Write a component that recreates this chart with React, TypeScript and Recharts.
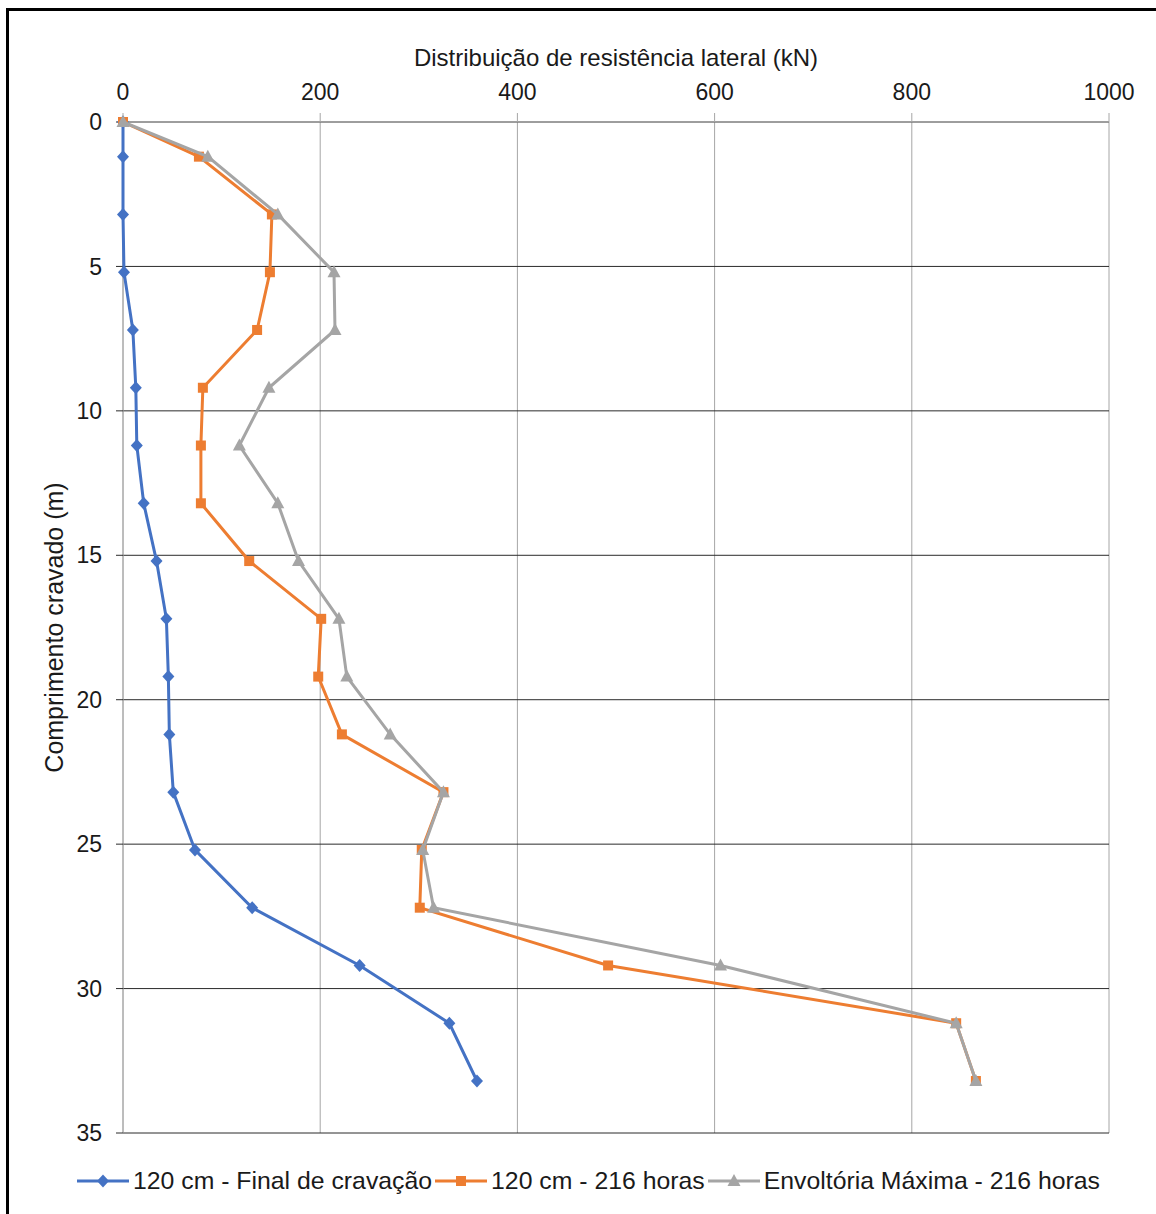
import { CartesianGrid, Label, Legend, Scatter, ScatterChart, XAxis, YAxis } from "recharts"

// Profundidade (m) de cada leitura
const depth = [0, 1.2, 3.2, 5.2, 7.2, 9.2, 11.2, 13.2, 15.2, 17.2, 19.2, 21.2, 23.2, 25.2, 27.2, 29.2, 31.2, 33.2]

// Resistência lateral acumulada (kN)
const finalCravacao = [0, 0, 0, 1, 10, 13, 14, 21, 34, 44, 46, 47, 51, 73, 131, 240, 331, 359]
const horas216 = [0, 77, 151, 149, 136, 81, 79, 79, 128, 201, 198, 222, 325, 303, 301, 492, 845, 865]
const envoltoria = [0, 86, 157, 214, 215, 148, 118, 157, 178, 219, 227, 271, 325, 304, 315, 606, 845, 865]

const xTicks = [0, 200, 400, 600, 800, 1000]
const yTicks = [0, 5, 10, 15, 20, 25, 30, 35]

const font = '"Liberation Sans", Arial, sans-serif'
const BLUE = "#4472C4"
const ORANGE = "#ED7D31"
const GRAY = "#A5A5A5"

const toPoints = (values: number[]) => values.map((v, i) => ({ x: v, y: depth[i] }))

const diamond = (color: string) => (p: any) => (
  <path d={`M${p.cx},${p.cy - 6.5}L${p.cx + 6},${p.cy}L${p.cx},${p.cy + 6.5}L${p.cx - 6},${p.cy}Z`} fill={color} />
)
const square = (color: string) => (p: any) => (
  <rect x={p.cx - 5} y={p.cy - 5} width={10} height={10} fill={color} />
)
const triangle = (color: string) => (p: any) => (
  <path d={`M${p.cx},${p.cy - 7}L${p.cx + 6.5},${p.cy + 5}L${p.cx - 6.5},${p.cy + 5}Z`} fill={color} />
)

const series = [
  { name: "120 cm - Final de cravação", values: finalCravacao, color: BLUE, marker: diamond },
  { name: "120 cm - 216 horas", values: horas216, color: ORANGE, marker: square },
  { name: "Envoltória Máxima - 216 horas", values: envoltoria, color: GRAY, marker: triangle },
]

function renderLegend() {
  return (
    <div
      style={{
        height: 60,
        boxSizing: "border-box",
        paddingTop: 35,
        paddingLeft: 24,
        display: "flex",
        justifyContent: "center",
        alignItems: "center",
        fontFamily: font,
        fontSize: 24.8,
        color: "#1a1a1a",
        whiteSpace: "nowrap",
      }}
    >
      {series.map((s) => (
        <div key={s.name} style={{ display: "flex", alignItems: "center", marginRight: 3 }}>
          <svg width={52} height={20} style={{ marginRight: 4 }}>
            <line x1={0} y1={10} x2={52} y2={10} stroke={s.color} strokeWidth={3} />
            {s.marker(s.color)({ cx: 26, cy: 10 })}
          </svg>
          <span style={{ lineHeight: "26px" }}>{s.name}</span>
        </div>
      ))}
    </div>
  )
}

export default function App() {
  return (
    <div style={{ position: "absolute", left: 0, top: 0, width: 1156, height: 1214, overflow: "hidden", background: "#fff" }}>
      <div
        style={{
          position: "absolute",
          left: 6,
          top: 8,
          width: 1200,
          height: 1300,
          borderLeft: "3px solid #000",
          borderTop: "3px solid #000",
        }}
      />
      <div style={{ position: "absolute", left: 0, top: 0 }}>
        <ScatterChart width={1156} height={1214} margin={{ top: 62, right: 47, bottom: 21, left: 23 }}>
          <CartesianGrid horizontal={false} stroke="#a6a6a6" />
          <CartesianGrid vertical={false} stroke="#2b2b2b" />
          <XAxis
            type="number"
            dataKey="x"
            orientation="top"
            domain={[0, 1000]}
            ticks={xTicks}
            height={60}
            tickSize={9}
            tickMargin={13}
            interval={0}
            axisLine={{ stroke: "#a6a6a6" }}
            tickLine={{ stroke: "#a6a6a6" }}
            tick={{ fontFamily: font, fontSize: 23, fill: "#1a1a1a" }}
          >
            <Label
              content={({ viewBox }: any) => (
                <text x={viewBox.x + viewBox.width / 2} y={66} textAnchor="middle" fontFamily={font} fontSize={24} fill="#1a1a1a">
                  Distribuição de resistência lateral (kN)
                </text>
              )}
            />
          </XAxis>
          <YAxis
            type="number"
            dataKey="y"
            reversed
            domain={[0, 35]}
            ticks={yTicks}
            width={100}
            tickSize={7}
            tickMargin={14}
            interval={0}
            axisLine={{ stroke: "#a6a6a6" }}
            tickLine={{ stroke: "#2b2b2b" }}
            tick={{ fontFamily: font, fontSize: 23, fill: "#1a1a1a" }}
          >
            <Label
              content={({ viewBox }: any) => {
                const cy = viewBox.y + viewBox.height / 2
                return (
                  <text x={63} y={cy} transform={`rotate(-90 63 ${cy})`} textAnchor="middle" fontFamily={font} fontSize={25} fill="#1a1a1a">
                    Comprimento cravado (m)
                  </text>
                )
              }}
            />
          </YAxis>
          <Legend verticalAlign="bottom" align="center" content={renderLegend} wrapperStyle={{ left: 0, width: 1156 }} />
          {series.map((s) => (
            <Scatter
              key={s.name}
              name={s.name}
              data={toPoints(s.values)}
              fill={s.color}
              line={{ stroke: s.color, strokeWidth: 3 }}
              shape={s.marker(s.color)}
              isAnimationActive={false}
            />
          ))}
        </ScatterChart>
      </div>
    </div>
  )
}
